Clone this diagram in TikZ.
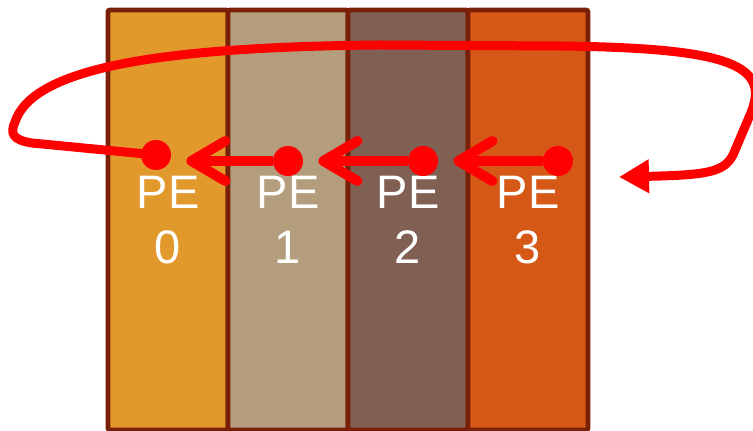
\documentclass[tikz,border=0pt]{standalone}
\usepackage{fontspec}
\setmainfont{Liberation Sans}
\usepackage{xcolor}
\definecolor{peorange}{HTML}{E0992A}
\definecolor{petan}{HTML}{B39D7C}
\definecolor{pebrown}{HTML}{7F6052}
\definecolor{perust}{HTML}{D55817}
\definecolor{peedge}{HTML}{7A2008}
\usetikzlibrary{arrows.meta}

\begin{document}
\begin{tikzpicture}[x=0.5pt, y=-0.5pt,
    pebox/.style={draw=peedge, line width=2.4pt, outer sep=0pt, inner sep=0pt,
      minimum width=60pt, minimum height=210pt, rounded corners=1pt,
      text=white, align=center, font=\fontsize{23.5}{27.5}\selectfont},
    dot/.style={circle, fill=red, inner sep=0pt, minimum size=15pt},
    hop/.style={red, line width=5pt, shorten >=7.5pt,
      -{Straight Barb[length=17pt, width=20pt, round]}},
    wrap/.style={red, line width=4.5pt, line join=round,
      -{Triangle[length=15pt, width=16pt]}}] % ring shift

      \useasboundingbox (0, 0) rectangle (753, 431);

      \foreach \i/\c in {0/peorange, 1/petan, 2/pebrown, 3/perust}
        \node [pebox, fill=\c] (pe\i) at ({168+120*\i}, 220) {PE\\\i};

      \node [dot] (d0) at (156, 155) {};
      \node [dot] (d1) at (288, 161) {};
      \node [dot] (d2) at (423, 161) {};
      \node [dot] (d3) at (558, 161) {};

      \draw [hop] (d3) -- (d2);
      \draw [hop] (d2) -- (d1);
      \draw [hop] (d1) -- (d1 -| d0.east);

      \coordinate (back) at (619, 177);

      \draw [wrap] (d0.center) -- (32, 143)
      .. controls (12, 140) and (10, 133) .. (15, 122)
      .. controls (32, 70) and (150, 47) .. (380, 45)
      -- (560, 46) .. controls (730, 48) and (772, 65) .. (750, 115)
      -- (733, 155) .. controls (724, 172) and (708, 175) .. (back);

    \end{tikzpicture}
\end{document}
